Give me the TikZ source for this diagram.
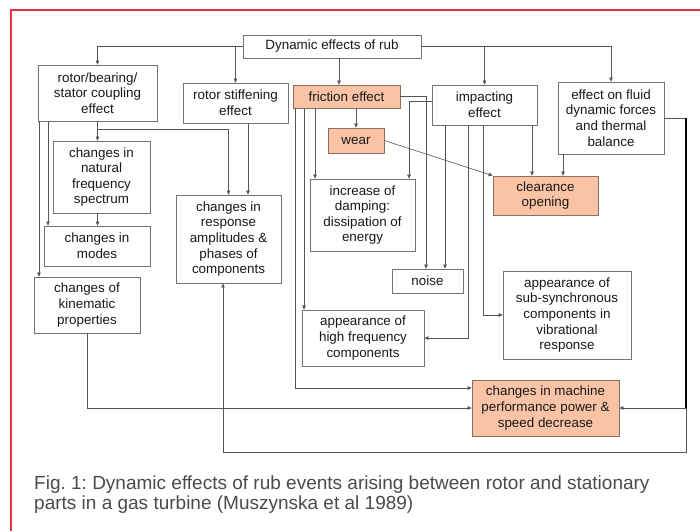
\documentclass[tikz,border=0pt]{standalone}
\usepackage{fontspec}
\setmainfont{Liberation Sans}
\usetikzlibrary{arrows.meta}
\definecolor{peach}{RGB}{250,195,165}
\definecolor{peachline}{RGB}{140,110,95}
\definecolor{boxline}{RGB}{115,115,115}
\definecolor{conn}{RGB}{85,85,85}
\definecolor{framered}{RGB}{232,50,60}
\definecolor{captext}{RGB}{75,75,75}
\begin{document}
\frenchspacing
\begin{tikzpicture}[x=1pt,y=-1pt,
  bx/.style={draw=boxline, line width=0.8pt, fill=white, inner sep=0pt, align=center,
             font=\fontsize{13.4}{15.6}\selectfont, text=black!90},
  hl/.style={bx, fill=peach, draw=peachline},
  cn/.style={draw=conn, line width=0.6pt},
  ar/.style={cn, -{Triangle[length=4pt,width=3.6pt]}},
  captxt/.style={anchor=base west, inner sep=0pt, text=captext, font=\fontsize{19}{19}\selectfont}]
\useasboundingbox (0,0) rectangle (700,531);
\fill[white] (0,0) rectangle (700,531);
% frame
\draw[framered, line width=1.4pt] (11,531) -- (11,10) -- (700,10);

% nodes
\node[bx, minimum width=178pt, minimum height=23pt] (top) at (332,46.5) {Dynamic effects of rub};
\node[bx, minimum width=119pt, minimum height=56pt] (rbs) at (97.5,93) {rotor/bearing/\\stator coupling\\effect};
\node[bx, minimum width=105pt, minimum height=40pt] (stiff) at (235.5,103) {rotor stiffening\\effect};
\node[hl, minimum width=107pt, minimum height=23pt] (fric) at (346.5,96.5) {friction effect};
\node[hl, minimum width=56pt, minimum height=25pt] (wear) at (356,140.5) {wear};
\node[bx, minimum width=105pt, minimum height=40pt] (impact) at (484.5,105) {impacting\\effect};
\node[bx, minimum width=106pt, minimum height=72pt] (fluid) at (611,118) {effect on fluid\\dynamic forces\\and thermal\\balance};
\node[hl, minimum width=105pt, minimum height=39pt] (clear) at (545.5,195.5) {clearance\\opening};
\node[bx, minimum width=105pt, minimum height=72pt] (damp) at (362.5,215) {increase of\\damping:\\dissipation of\\energy};
\node[bx, minimum width=97pt, minimum height=72pt] (natf) at (101.5,177) {changes in\\natural\\frequency\\spectrum};
\node[bx, minimum width=106pt, minimum height=40pt] (modes) at (97,246) {changes in\\modes};
\node[bx, minimum width=105pt, minimum height=88pt] (resp) at (228.5,239) {changes in\\response\\amplitudes \&\\phases of\\components};
\node[bx, minimum width=106pt, minimum height=56pt] (kin) at (87,305) {changes of\\kinematic\\properties};
\node[bx, minimum width=71pt, minimum height=24pt] (noise) at (427.5,281) {noise};
\node[bx, minimum width=128pt, minimum height=88pt] (subs) at (567,315) {appearance of\\sub-synchronous\\components in\\vibrational\\response};
\node[bx, minimum width=122pt, minimum height=56pt] (hif) at (363,338) {appearance of\\high frequency\\components};
\node[hl, minimum width=147pt, minimum height=56pt] (perf) at (545.5,408) {changes in machine\\performance power \&\\speed decrease};

% routing guides
\coordinate (g39) at (39,0);
\coordinate (g48) at (48,0);
\coordinate (g223) at (223,0);
\coordinate (g248) at (248,0);
\coordinate (g295) at (295,0);
\coordinate (g304) at (304,0);
\coordinate (g315) at (315,0);
\coordinate (g339) at (339,0);
\coordinate (g409) at (409,0);
\coordinate (g426) at (426,0);
\coordinate (g445) at (445,0);
\coordinate (g468) at (468,0);
\coordinate (g483) at (483,0);
\coordinate (g532) at (532,0);
\coordinate (g563) at (563,0);
\coordinate (r1) at (686,0);
\coordinate (b1) at (0,452);
\coordinate (j1) at ([yshift=-8pt]rbs.south);

% connectors from top
\draw[ar] (top.west) -| (rbs.north);
\draw[ar] (stiff.north |- top.west) -- (stiff.north);
\draw[ar] (g339 |- top.south) -- (g339 |- fric.north);
\draw[ar] (top.east) -| (fluid.north);
\draw[ar] (impact.north |- top.east) -- (impact.north);

% rotor/bearing/stator
\draw[ar] (g39 |- rbs.south) -- (g39 |- kin.north);
\draw[ar] (g48 |- rbs.south) -- (g48 |- modes.north);
\draw[ar] (rbs.south) -- (rbs.south |- natf.north);
\draw[ar] (j1) -| (resp.north);
\draw[ar] (rbs.south |- natf.south) -- (rbs.south |- modes.north);
\draw[ar] (g248 |- stiff.south) -- (g248 |- resp.north);

% friction
\draw[ar] (wear.north |- fric.south) -- (wear.north);
\draw[ar] (g315 |- fric.south) -- (g315 |- damp.north);
\draw[ar] (fric.east) -| (g426 |- noise.north);
\draw[ar] (g304 |- fric.south) -- (g304 |- hif.north);
\draw[ar] (g295 |- fric.south) |- ([yshift=20pt]perf.west);
\draw[ar] (wear.east) -- (clear.north west);

% kinematic
\draw[ar] (kin.south) |- (perf.west);

% impacting
\draw[ar] ([yshift=4pt]impact.west) -| (g409 |- damp.north);
\draw[ar] (g445 |- impact.south) -- (g445 |- noise.north);
\draw[ar] (g468 |- impact.south) |- (hif.east);
\draw[ar] (g483 |- impact.south) |- (subs.west);
\draw[ar] (g532 |- impact.south) -- (g532 |- clear.north);

% fluid
\draw[ar] (g563 |- fluid.south) -- (g563 |- clear.north);
\draw[cn] (fluid.east) -- (fluid.east -| r1);
\draw[black, line width=1.6pt] (fluid.east -| r1) -- (r1 |- perf.east);
\draw[ar] (r1 |- perf.east) -- (perf.east);
\draw[ar] (r1 |- perf.east) -- (r1 |- b1) -- (g223 |- b1) -- (g223 |- resp.south);

% caption
\node[captxt] (cap1) at (34,489) {Fig. 1: Dynamic effects of rub events arising between rotor and stationary};
\node[captxt] (cap2) at (34,509) {parts in a gas turbine (Muszynska et al 1989)};
\end{tikzpicture}
\end{document}
